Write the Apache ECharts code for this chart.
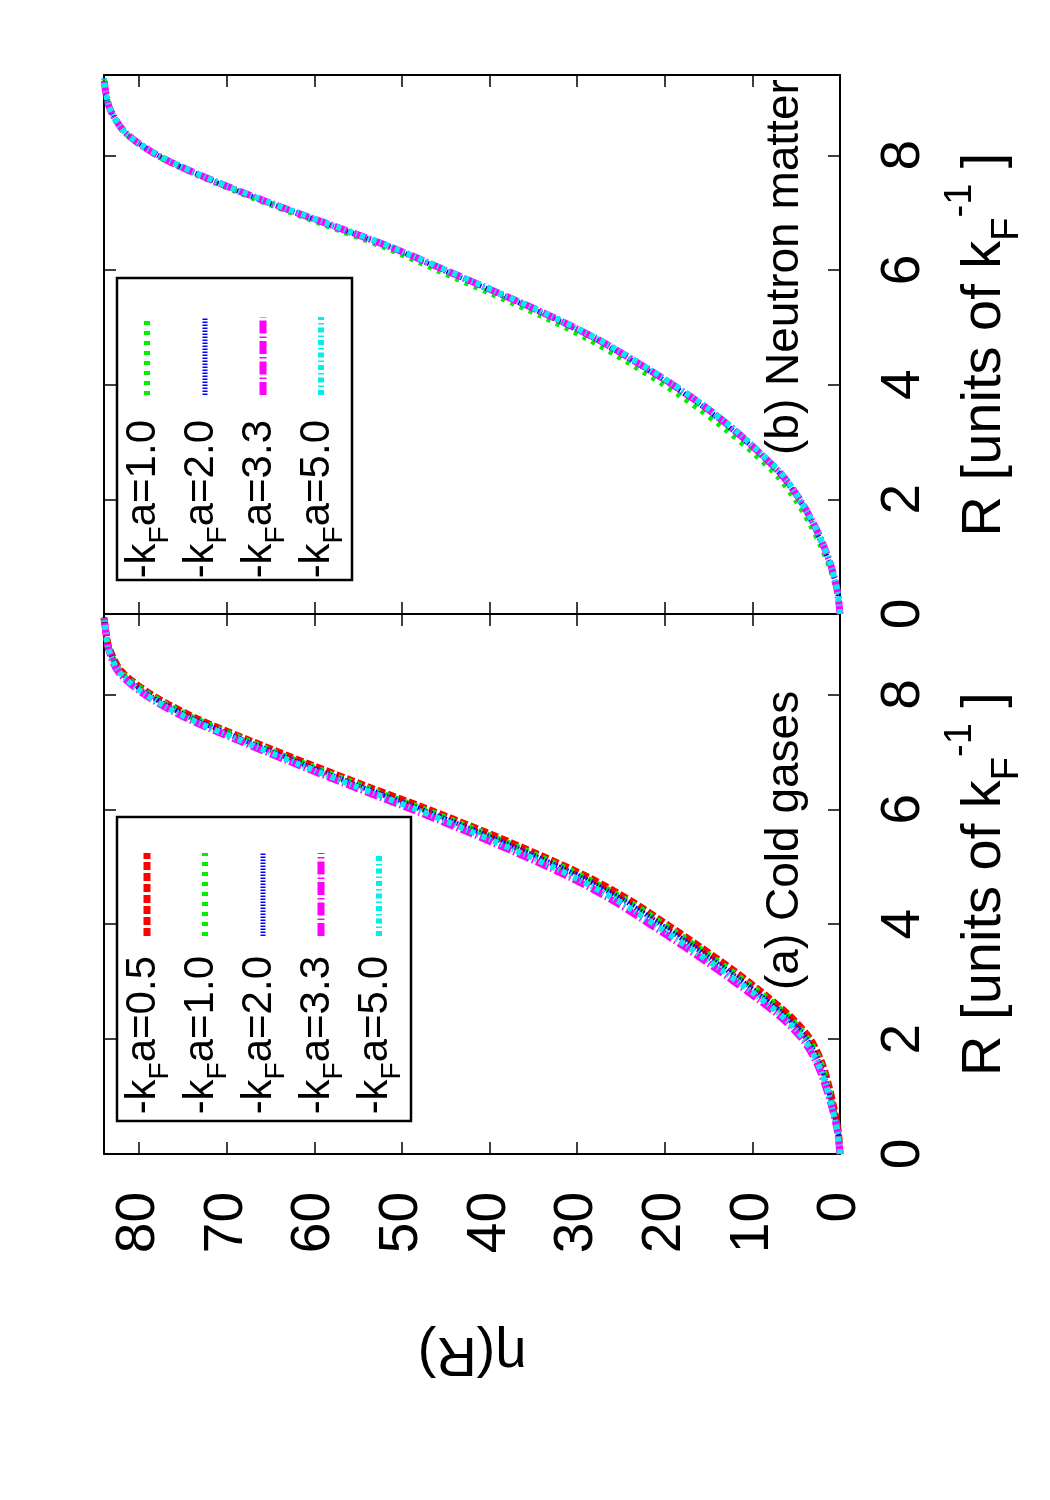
<!DOCTYPE html>
<html lang="en">
<head>
<meta charset="UTF-8">
<title>eta(R)</title>
<script src="https://cdn.jsdelivr.net/npm/echarts@6/dist/echarts.min.js"></script>
<style>
html,body{margin:0;padding:0;background:#fff;}
#main{width:1050px;height:1500px;}
</style>
</head>
<body>
<div id="main"></div>
<script>
// R grid shared by all curves (units of 1/kF)
var rGrid = [0, 0.4, 0.8, 1.2, 1.6, 2.0, 2.4, 2.8, 3.2, 3.6, 4.0, 4.4, 4.8, 5.2, 5.6, 6.0, 6.4, 6.8, 7.2, 7.6, 8.0, 8.4, 8.8, 9.1, 9.34];

// (a) cold gases
var etaA05 = [0, 0.2, 0.7, 1.3, 2.1, 3.4, 5.7, 8.8, 12.2, 15.9, 19.8, 23.8, 28.5, 34.2, 40.4, 47.0, 54.0, 60.8, 67.4, 73.7, 78.6, 82.0, 83.4, 83.8, 84];
var etaA10 = [0, 0.2, 0.75, 1.4, 2.2, 3.6, 5.9, 9.0, 12.5, 16.2, 20.1, 24.1, 28.9, 34.6, 40.8, 47.4, 54.4, 61.2, 67.7, 73.9, 78.8, 82.1, 83.4, 83.8, 84];
var etaA20 = [0, 0.25, 0.8, 1.5, 2.4, 3.8, 6.2, 9.4, 12.9, 16.6, 20.5, 24.5, 29.3, 35.0, 41.2, 47.8, 54.8, 61.5, 68.0, 74.2, 79.0, 82.2, 83.4, 83.8, 84];
var etaA33 = [0, 0.3, 0.9, 1.7, 2.7, 4.3, 6.9, 10.3, 13.9, 17.7, 21.7, 25.8, 30.6, 36.3, 42.4, 48.9, 55.7, 62.3, 68.7, 74.8, 79.4, 82.4, 83.5, 83.8, 84];
var etaA50 = [0, 0.3, 0.9, 1.6, 2.6, 4.1, 6.6, 9.9, 13.5, 17.3, 21.2, 25.3, 30.1, 35.8, 41.9, 48.4, 55.3, 62.0, 68.4, 74.6, 79.3, 82.3, 83.5, 83.8, 84];

// (b) neutron matter
var etaB10 = [0, 0.35, 1.1, 2.2, 3.5, 5.1, 7.1, 9.8, 12.9, 16.3, 20.1, 24.3, 28.8, 34.1, 40.0, 46.0, 52.0, 59.0, 66.0, 72.5, 78.0, 81.7, 83.3, 83.8, 84];
var etaB20 = [0, 0.3, 1.0, 2.0, 3.2, 4.7, 6.6, 9.2, 12.2, 15.5, 19.3, 23.5, 28.0, 33.3, 39.2, 45.3, 51.4, 58.5, 65.7, 72.3, 77.9, 81.6, 83.3, 83.8, 84];
var etaB33 = [0, 0.3, 0.95, 1.9, 3.1, 4.6, 6.5, 9.1, 12.0, 15.3, 19.1, 23.3, 27.8, 33.1, 39.0, 45.1, 51.3, 58.4, 65.6, 72.2, 77.9, 81.6, 83.3, 83.8, 84];
var etaB50 = [0, 0.3, 0.95, 1.9, 3.1, 4.6, 6.4, 9.0, 11.9, 15.2, 19.0, 23.2, 27.7, 33.0, 38.9, 45.0, 51.2, 58.3, 65.5, 72.1, 77.8, 81.6, 83.3, 83.8, 84];

var etaTicks = [0, 10, 20, 30, 40, 50, 60, 70, 80];
var rTicks = [0, 2, 4, 6, 8];
var labelsA = ['0.5', '1.0', '2.0', '3.3', '5.0'];
var labelsB = ['1.0', '2.0', '3.3', '5.0'];

var FONT = '"Liberation Sans", Arial, Helvetica, sans-serif';

// line styles per kFa
var styles = {
    '0.5': {color: '#ff0000', width: 7, dash: [8, 3]},
    '1.0': {color: '#00ee00', width: 6, dash: [4, 6]},
    '2.0': {color: '#0000ff', width: 5, dash: [1.5, 1.5]},
    '3.3': {color: '#ff00ff', width: 7, dash: [13, 3, 1.5, 3]},
    '5.0': {color: '#00eeee', width: 6, dash: [5, 3, 1.5, 3]}
};

function pts(eta) {
    return rGrid.map(function (r, i) { return [eta[i], r]; });
}

function etaAxis(grid, pos, showLabel) {
    return {
        type: 'value', gridIndex: grid, position: pos, inverse: true,
        min: 0, max: 84,
        axisLine: {show: true, onZero: false, lineStyle: {color: '#000', width: 2}},
        axisTick: {show: true, inside: true, length: 12, customValues: etaTicks, lineStyle: {color: '#000', width: 1.5}},
        axisLabel: {show: showLabel, customValues: etaTicks, rotate: 90, margin: 38, fontSize: 55, color: '#000', fontFamily: FONT},
        splitLine: {show: false}
    };
}

function rAxis(grid, pos, showLabel) {
    var ax = {
        type: 'value', gridIndex: grid, position: pos,
        min: 0, max: 9.4,
        axisLine: {show: true, onZero: false, lineStyle: {color: '#000', width: 2}},
        axisTick: {show: true, inside: true, length: 12, customValues: rTicks, lineStyle: {color: '#000', width: 1.5}},
        axisLabel: {show: showLabel, customValues: rTicks, rotate: 90, margin: 36, fontSize: 55, color: '#000', fontFamily: FONT},
        splitLine: {show: false}
    };
    if (showLabel) {
        ax.name = '{m|R [units of k}{s|F}{p|-1}{m| ]}';
        ax.nameLocation = 'middle';
        ax.nameRotate = 90;
        ax.nameGap = 100;
        ax.nameTextStyle = {
            fontFamily: FONT, color: '#000',
            rich: {
                m: {fontSize: 56, lineHeight: 90, verticalAlign: 'middle', fontFamily: FONT, color: '#000'},
                s: {fontSize: 38, lineHeight: 38, padding: [49, 0, 0, 0], verticalAlign: 'top', fontFamily: FONT, color: '#000'},
                p: {fontSize: 38, lineHeight: 38, padding: [2, 0, 0, 0], verticalAlign: 'top', fontFamily: FONT, color: '#000'}
            }
        };
    }
    return ax;
}

var xAxes = [etaAxis(0, 'bottom', false), etaAxis(0, 'top', false), etaAxis(1, 'bottom', true), etaAxis(1, 'top', false)];
xAxes[2].name = 'η(R)';
xAxes[2].nameLocation = 'middle';
xAxes[2].nameRotate = 180;
xAxes[2].nameGap = 171;
xAxes[2].nameTextStyle = {fontSize: 56, color: '#000', fontFamily: FONT};

var yAxes = [rAxis(0, 'right', true), rAxis(0, 'left', false), rAxis(1, 'right', true), rAxis(1, 'left', false)];

function mkSeries(key, eta, axisIdx) {
    var st = styles[key];
    return {
        name: key + axisIdx, type: 'line', xAxisIndex: axisIdx, yAxisIndex: axisIdx,
        data: pts(eta), showSymbol: false, symbol: 'none', smooth: 0.3,
        lineStyle: {color: st.color, width: st.width, type: st.dash},
        emphasis: {disabled: true}
    };
}

var series = [
    mkSeries('0.5', etaA05, 2), mkSeries('1.0', etaA10, 2), mkSeries('2.0', etaA20, 2),
    mkSeries('3.3', etaA33, 2), mkSeries('5.0', etaA50, 2),
    mkSeries('1.0', etaB10, 0), mkSeries('2.0', etaB20, 0), mkSeries('3.3', etaB33, 0), mkSeries('5.0', etaB50, 0)
];

// rotated legend boxes, drawn as graphics
var legRich = {
    m: {fontSize: 42, lineHeight: 64, verticalAlign: 'middle', fontFamily: FONT, fill: '#000'},
    s: {fontSize: 28, lineHeight: 28, padding: [35, 0, 0, 0], verticalAlign: 'top', fontFamily: FONT, fill: '#000'}
};
function legend(labels, box, textY, sTop, sBot) {
    var els = [{
        type: 'rect', shape: {x: box[0], y: box[1], width: box[2], height: box[3]},
        style: {fill: null, stroke: '#000', lineWidth: 2.5}, z: 10
    }];
    labels.forEach(function (lb, i) {
        var cx = 147 + i * 58;
        var st = styles[lb];
        els.push({
            type: 'text', x: cx - 4, y: textY, rotation: Math.PI / 2, z: 11,
            style: {text: '{m|-k}{s|F}{m|a=' + lb + '}', rich: legRich, align: 'right', verticalAlign: 'middle', fill: '#000', fontFamily: FONT, fontSize: 42}
        });
        els.push({
            type: 'line', shape: {x1: cx, y1: sBot, x2: cx, y2: sTop}, z: 11,
            style: {stroke: st.color, lineWidth: st.width, lineDash: st.dash}
        });
    });
    return els;
}

var graphics = []
    .concat(legend(labelsA, [117, 817, 294, 304], 956, 853, 936))
    .concat(legend(labelsB, [117, 278, 235, 302], 420, 317, 395))
    .concat([
        {type: 'text', x: 785, y: 990, rotation: Math.PI / 2, z: 11,
         style: {text: '(a) Cold gases', fontSize: 46, fontFamily: FONT, fill: '#000', align: 'left', verticalAlign: 'middle'}},
        {type: 'text', x: 785, y: 455, rotation: Math.PI / 2, z: 11,
         style: {text: '(b) Neutron matter', fontSize: 46, fontFamily: FONT, fill: '#000', align: 'left', verticalAlign: 'middle'}}
    ]);

var chart = echarts.init(document.getElementById('main'), null, {renderer: 'canvas'});
chart.setOption({
    animation: false,
    backgroundColor: '#fff',
    textStyle: {fontFamily: FONT},
    grid: [
        {left: 104, top: 75, width: 736, height: 539},
        {left: 104, top: 614, width: 736, height: 540}
    ],
    xAxis: xAxes,
    yAxis: yAxes,
    series: series,
    graphic: graphics
});
</script>
</body>
</html>
